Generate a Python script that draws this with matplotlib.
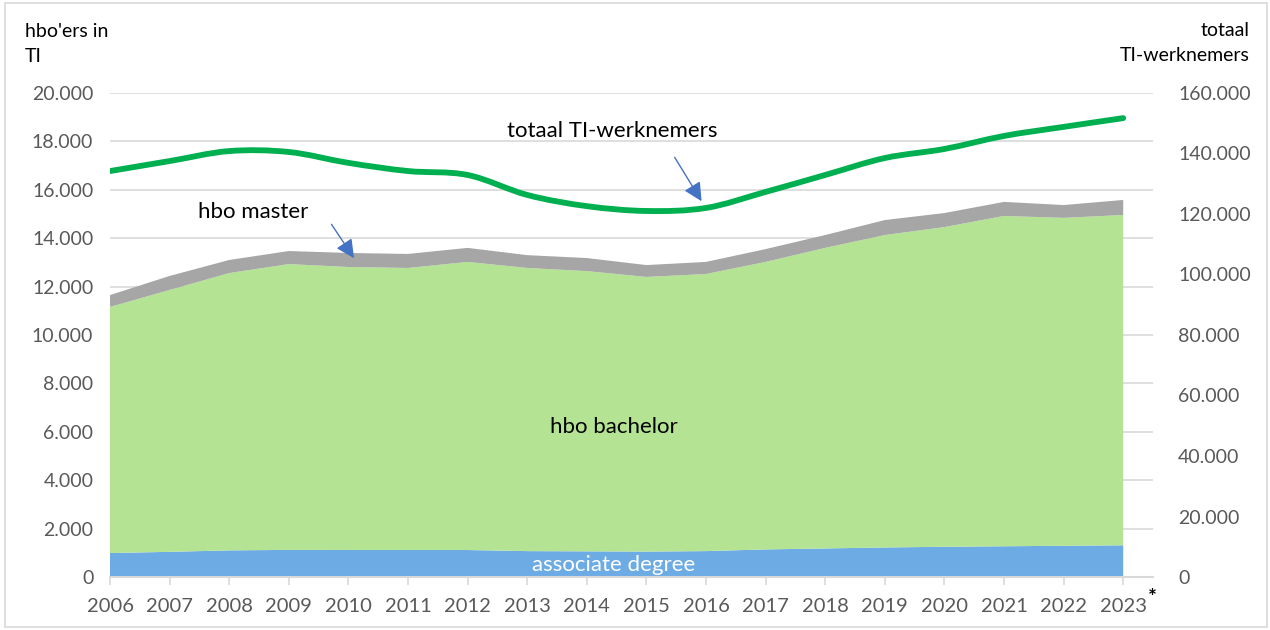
import numpy as np
import matplotlib
matplotlib.use('Agg')
import matplotlib.pyplot as plt
from matplotlib.path import Path
from matplotlib.patches import PathPatch, Rectangle
from matplotlib.ticker import FuncFormatter

plt.rcParams['font.family'] = ['Lato', 'DejaVu Sans']

years = list(range(2006, 2024))
year_labels = [str(y) for y in years]

# hbo'ers in TI (left axis)
associate = [990, 1040, 1100, 1120, 1115, 1115, 1115, 1070, 1060, 1050,
             1070, 1140, 1180, 1220, 1250, 1270, 1290, 1310]
bachelor_top = [11160, 11860, 12560, 12930, 12810, 12770, 13020, 12770, 12640, 12400,
                12520, 13020, 13600, 14130, 14460, 14920, 14840, 14960]
total_hbo = [11650, 12440, 13100, 13470, 13390, 13350, 13600, 13300, 13180, 12890,
             13020, 13550, 14130, 14750, 15040, 15500, 15370, 15580]
bachelor = [b - a for a, b in zip(associate, bachelor_top)]
master = [t - b for b, t in zip(bachelor_top, total_hbo)]

# totaal TI-werknemers (right axis)
werknemers = [134200, 137500, 140800, 140500, 136900, 134200, 132900, 126300, 122600,
              121000, 122000, 127300, 132900, 138500, 141500, 145800, 148800, 151700]

c_assoc = '#6CABE4'
c_bach = '#B4E393'
c_master = '#A6A6A6'
c_line = '#00B050'
c_arrow = '#4472C4'
c_tick = '#595959'
c_grid = '#D9D9D9'


def dots(v, pos):
    return '{:,.0f}'.format(v).replace(',', '.')


fig = plt.figure(figsize=(12.7, 6.3), dpi=100)
ax = fig.add_axes([110 / 1270, 53 / 630, 1043 / 1270, 484 / 630])

ax.stackplot(years, associate, bachelor, master,
             colors=[c_assoc, c_bach, c_master], linewidth=0)

ax.set_xlim(2006, 2023.5)
ax.set_ylim(0, 20000)
ax.set_yticks(range(0, 20001, 2000))
ax.yaxis.set_major_formatter(FuncFormatter(dots))
ax.set_xticks(years)
ax.set_xticklabels(year_labels)
ax.grid(axis='y', color=c_grid, lw=1.2)
ax.set_axisbelow(True)
for s in ['top', 'left', 'right']:
    ax.spines[s].set_visible(False)
ax.spines['bottom'].set_color(c_grid)
ax.spines['bottom'].set_linewidth(1.5)
ax.tick_params(axis='x', colors=c_grid, length=6, width=1.2, labelcolor=c_tick,
               labelsize=14.5, pad=9)
ax.tick_params(axis='y', length=0, labelcolor=c_tick, labelsize=14, pad=12)

ax2 = ax.twinx()
ax2.set_ylim(0, 160000)
ax2.set_yticks(range(0, 160001, 20000))
ax2.yaxis.set_major_formatter(FuncFormatter(dots))
for s in ['top', 'left', 'right', 'bottom']:
    ax2.spines[s].set_visible(False)
ax2.tick_params(axis='y', length=0, labelcolor=c_tick, labelsize=14, pad=18)

# smooth line like Excel (Catmull-Rom as bezier segments)
pts = np.column_stack([years, werknemers]).astype(float)
verts = [tuple(pts[0])]
codes = [Path.MOVETO]
for i in range(len(pts) - 1):
    p0 = pts[i - 1] if i > 0 else pts[i]
    p1 = pts[i]
    p2 = pts[i + 1]
    p3 = pts[i + 2] if i + 2 < len(pts) else pts[i + 1]
    verts += [tuple(p1 + (p2 - p0) / 6), tuple(p2 - (p3 - p1) / 6), tuple(p2)]
    codes += [Path.CURVE4] * 3
ax2.add_patch(PathPatch(Path(verts, codes), fill=False, edgecolor=c_line,
                        lw=4.2, capstyle='round', joinstyle='round'))

# labels in the chart
ax.text(2014.45, 6200, 'hbo bachelor', ha='center', va='center', fontsize=16, color='black')
ax.text(2014.45, 480, 'associate degree', ha='center', va='center', fontsize=16, color='white')
ax.annotate('', xy=(2010.12, 13080), xytext=(2009.69, 14670),
            arrowprops=dict(arrowstyle='-|>', color=c_arrow, lw=1, mutation_scale=28))
ax.text(2008.4, 15080, 'hbo master', ha='center', va='center', fontsize=16, color='black')
ax.annotate('', xy=(2015.95, 15430), xytext=(2015.45, 17440),
            arrowprops=dict(arrowstyle='-|>', color=c_arrow, lw=1, mutation_scale=28))
ax.text(2014.42, 18430, 'totaal TI-werknemers', ha='center', va='center', fontsize=16,
        color='black')

fig.text(25 / 1270, 1 - 44 / 630, "hbo'ers in\nTI", ha='left', va='center', fontsize=14,
         linespacing=1.6)
fig.text(1250 / 1270, 1 - 43 / 630, 'totaal\nTI-werknemers', ha='right', va='center',
         fontsize=14, linespacing=1.6)
fig.text(1152 / 1270, 1 - 598 / 630, '*', ha='center', va='center', fontsize=15,
         fontweight='bold')

fig.patches.append(Rectangle((5 / 1270, 3 / 630), 1262 / 1270, 624 / 630,
                             transform=fig.transFigure, fill=False, edgecolor=c_grid, lw=1.2))

plt.savefig('out.png', dpi=100)
